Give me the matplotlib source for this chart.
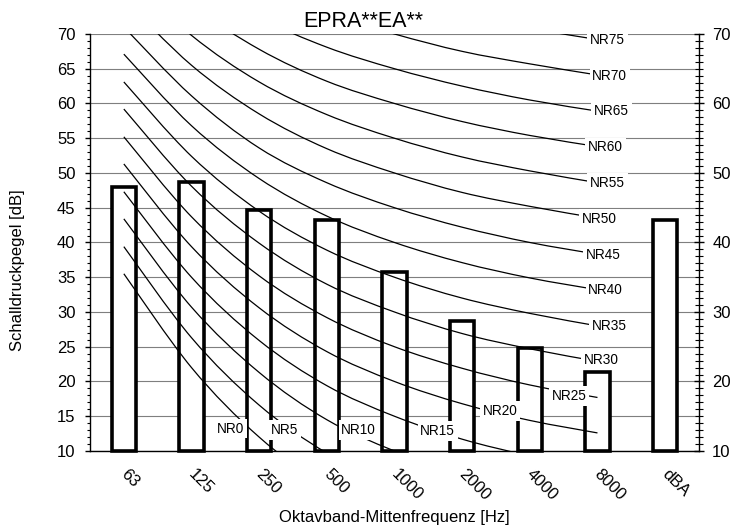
import matplotlib
matplotlib.use('Agg')
import matplotlib.pyplot as plt
from matplotlib.ticker import MultipleLocator
from matplotlib.path import Path
from matplotlib.patches import PathPatch
import matplotlib.transforms as mtransforms
import numpy as np

plt.rcParams['font.family'] = ['Liberation Sans', 'DejaVu Sans']

# Octave bands + overall A-weighted level
bands = ['63', '125', '250', '500', '1000', '2000', '4000', '8000', 'dBA']
levels = [48.0, 48.75, 44.7, 43.2, 35.8, 28.75, 24.8, 21.4, 43.2]

# NR curves at 63 ... 8000 Hz
nr_names = ['NR0', 'NR5', 'NR10', 'NR15', 'NR20', 'NR25', 'NR30', 'NR35',
            'NR40', 'NR45', 'NR50', 'NR55', 'NR60', 'NR65', 'NR70', 'NR75']
nr_values = [
    [35.5, 22.0, 12.0, 4.8, 0.0, -3.5, -6.1, -8.0],
    [39.4, 26.3, 16.6, 9.7, 5.0, 1.6, -1.0, -2.8],
    [43.4, 30.7, 21.3, 14.5, 10.0, 6.6, 4.2, 2.3],
    [47.3, 35.0, 25.9, 19.4, 15.0, 11.7, 9.3, 7.4],
    [51.3, 39.4, 30.6, 24.3, 20.0, 16.8, 14.4, 12.6],
    [55.2, 43.7, 35.2, 29.2, 25.0, 21.9, 19.5, 17.7],
    [59.2, 48.1, 39.9, 34.0, 30.0, 26.9, 24.7, 22.9],
    [63.1, 52.4, 44.5, 38.9, 35.0, 32.0, 29.8, 28.0],
    [67.1, 56.8, 49.2, 43.8, 40.0, 37.1, 34.9, 33.2],
    [71.0, 61.1, 53.6, 48.6, 45.0, 42.2, 40.0, 38.3],
    [75.0, 65.5, 58.5, 53.5, 50.0, 47.2, 45.2, 43.5],
    [78.9, 69.8, 63.1, 58.4, 55.0, 52.3, 50.3, 48.6],
    [82.9, 74.2, 67.8, 63.2, 60.0, 57.4, 55.4, 53.8],
    [86.8, 78.5, 72.4, 68.1, 65.0, 62.5, 60.5, 58.9],
    [90.8, 82.9, 77.1, 73.0, 70.0, 67.5, 65.7, 64.1],
    [94.7, 87.2, 81.7, 77.9, 75.0, 72.6, 70.8, 69.2],
]

# where the curve names sit (category index, dB)
label_x = [1.58, 2.38, 3.47, 4.64, 5.56, 6.58, 7.06, 7.18,
           7.12, 7.08, 7.03, 7.15, 7.12, 7.21, 7.18, 7.15]
label_y = [13.2, 13.0, 13.0, 12.9, 15.75, 17.9, 23.1, 28.0,
           33.2, 38.2, 43.4, 48.6, 53.7, 58.9, 64.0, 69.1]


def smooth_path(xs, ys):
    # spreadsheet-style smoothed line: cubic bezier through every point
    pts = np.column_stack((xs, ys)).astype(float)
    n = len(pts)
    verts = [pts[0]]
    codes = [Path.MOVETO]
    for i in range(n - 1):
        p0 = pts[i - 1] if i > 0 else pts[i]
        p3 = pts[i + 2] if i + 2 < n else pts[i + 1]
        c1 = pts[i] + (pts[i + 1] - p0) / 6
        c2 = pts[i + 1] - (p3 - pts[i]) / 6
        verts += [c1, c2, pts[i + 1]]
        codes += [Path.CURVE4] * 3
    return Path(verts, codes)


fig = plt.figure(figsize=(7.3, 5.26), dpi=100)
ax = fig.add_axes([0.1233, 0.1426, 0.8342, 0.7928])

x = np.arange(len(bands))
ax.bar(x, np.array(levels) - 10, bottom=10, width=0.36, color='white',
       edgecolor='black', linewidth=2.6, zorder=2, clip_on=False)

for vals in nr_values:
    ax.add_patch(PathPatch(smooth_path(np.arange(len(vals)), vals),
                           facecolor='none', edgecolor='black', lw=0.9, zorder=3))

for name, lx, ly in zip(nr_names, label_x, label_y):
    ax.text(lx, ly, name, fontsize=9.8, ha='center', va='center', zorder=5,
            bbox=dict(facecolor='white', edgecolor='none', pad=2.0))

ax.set_xlim(-0.5, len(bands) - 0.5)
ax.set_ylim(10, 70)
ax.yaxis.set_major_locator(MultipleLocator(5))
ax.yaxis.set_minor_locator(MultipleLocator(1))
ax.grid(axis='y', color='#7f7f7f', lw=0.8)
ax.set_axisbelow(True)
ax.spines['top'].set_visible(False)
ax.spines['right'].set_visible(False)
ax.spines['bottom'].set_linewidth(1.0)
ax.spines['left'].set_linewidth(1.0)

ax.set_xticks(x)
ax.set_xticklabels(bands, rotation=-45, ha='left', fontsize=12)
ax.tick_params(axis='x', length=0, pad=11)
shift = mtransforms.ScaledTranslation(-0.06, 0, fig.dpi_scale_trans)
for lbl in ax.get_xticklabels():
    lbl.set_transform(lbl.get_transform() + shift)
ax.tick_params(axis='y', which='major', direction='out', length=3.5, width=1,
               labelsize=12, pad=7)
ax.tick_params(axis='y', which='minor', direction='out', length=2.5, width=0.8)

ax2 = ax.twinx()
ax2.set_ylim(10, 70)
ax2.yaxis.set_major_locator(MultipleLocator(10))
ax2.yaxis.set_minor_locator(MultipleLocator(1))
ax2.tick_params(which='major', direction='inout', length=7, width=1,
                labelsize=12, pad=6)
ax2.tick_params(which='minor', direction='inout', length=6, width=0.8)
for s in ['top', 'left', 'bottom']:
    ax2.spines[s].set_visible(False)
ax2.spines['right'].set_linewidth(1.0)

fig.text(363 / 730, 1 - 27 / 526, 'EPRA**EA**', fontsize=15.5,
         ha='center', va='baseline')
fig.text(394 / 730, 1 - 522 / 526, 'Oktavband-Mittenfrequenz [Hz]',
         fontsize=12, ha='center', va='baseline')
fig.text(18 / 730, 1 - 270 / 526, 'Schalldruckpegel [dB]', fontsize=12,
         rotation=90, ha='center', va='center')

fig.savefig('out.png', dpi=100)
